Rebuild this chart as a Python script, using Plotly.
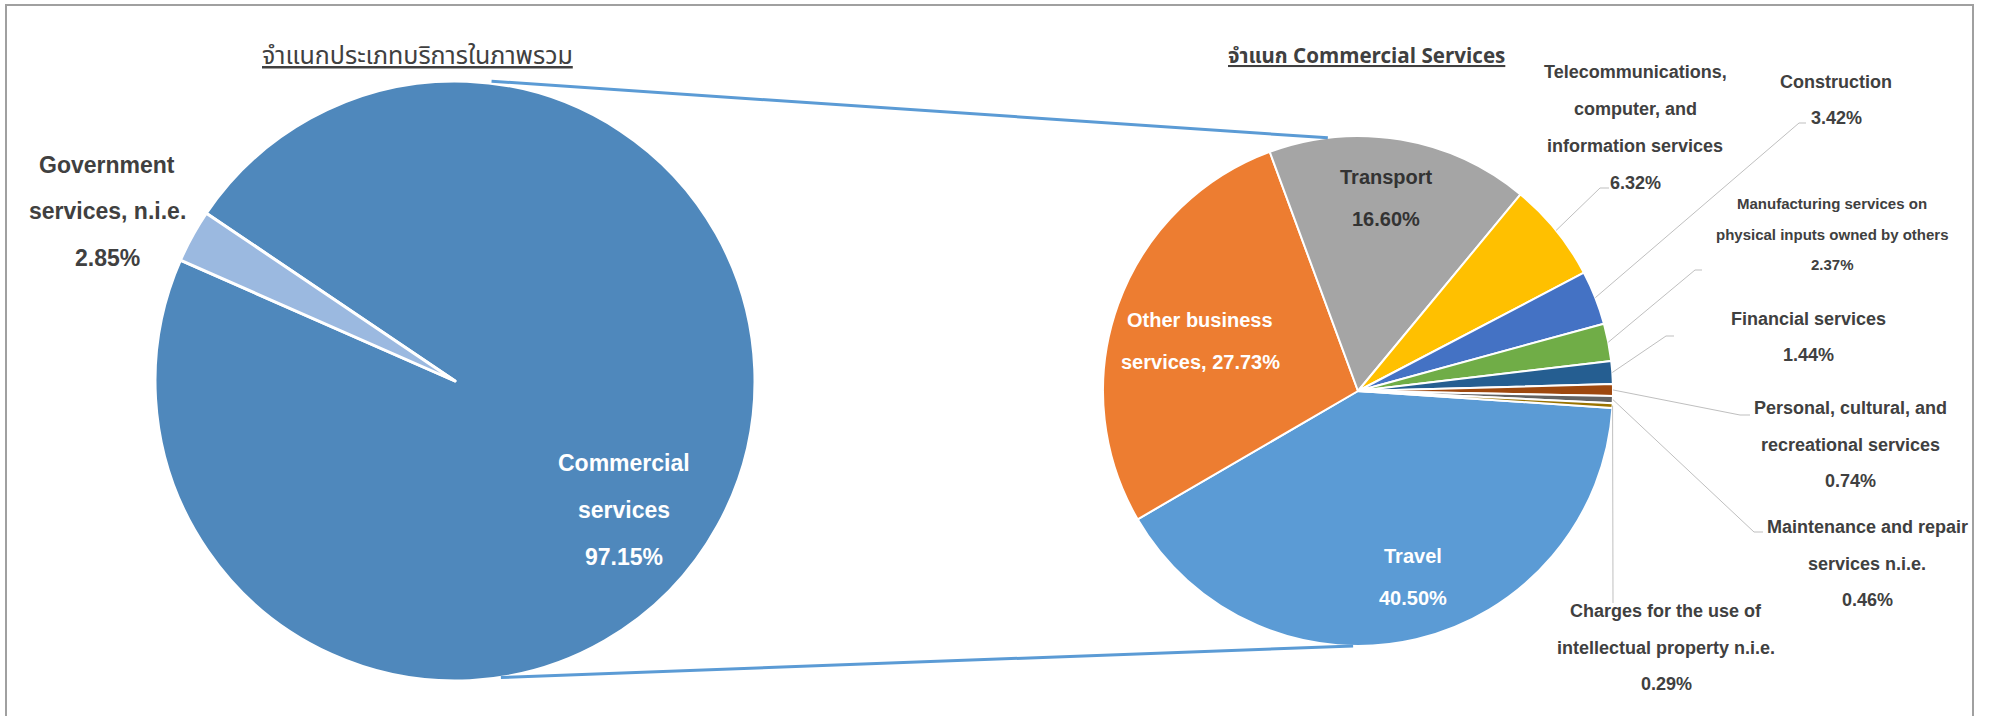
import math
import plotly.graph_objects as go

# Services breakdown (percent shares)
overall_categories = ["Commercial services", "Government services, n.i.e."]
overall_values = [97.15, 2.85]
overall_colors = ["#4F88BC", "#9BB9E0"]

commercial_categories = [
    "Travel",
    "Other business services",
    "Transport",
    "Telecommunications, computer, and information services",
    "Construction",
    "Manufacturing services on physical inputs owned by others",
    "Financial services",
    "Personal, cultural, and recreational services",
    "Maintenance and repair services n.i.e.",
    "Charges for the use of intellectual property n.i.e.",
]
commercial_values = [40.50, 27.73, 16.60, 6.32, 3.42, 2.37, 1.44, 0.74, 0.46, 0.29]
commercial_colors = ["#5B9BD5", "#ED7D31", "#A5A5A5", "#FFC000", "#4472C4",
                     "#70AD47", "#255E91", "#9E480E", "#636363", "#997300"]

# Line-broken label templates ({v} is replaced by the formatted share)
overall_label_lines = ["Commercial\nservices\n{v}", "Government\nservices, n.i.e.\n{v}"]
commercial_label_lines = [
    "Travel\n{v}",
    "Other business\nservices, {v}",
    "Transport\n{v}",
    "Telecommunications,\ncomputer, and\ninformation services\n{v}",
    "Construction\n{v}",
    "Manufacturing services on\nphysical inputs owned by others\n{v}",
    "Financial services\n{v}",
    "Personal, cultural, and\nrecreational services\n{v}",
    "Maintenance and repair\nservices n.i.e.\n{v}",
    "Charges for the use of\nintellectual property n.i.e.\n{v}",
]

title_left = "จำแนกประเภทบริการในภาพรวม"
title_right = "จำแนก Commercial Services"

W, H = 1990, 716
FONT = "Liberation Sans, Arial, sans-serif"
THAI_FONT = "Noto Sans Thai, Noto Sans Thai UI, Leelawadee UI, Tahoma, DejaVu Sans, Liberation Sans, sans-serif"
TEXT_DARK = "#404040"

# pie geometry in pixels: centre and radius
L_CX, L_CY, L_R = 455, 381, 300
R_CX, R_CY, R_R = 1358, 391, 255
L_ROT, R_ROT = -56.0, 93.8


def px(x):
    return x / W


def py(y):
    return 1 - y / H


def domain(cx, cy, r):
    return dict(x=[px(cx - r), px(cx + r)], y=[py(cy + r), py(cy - r)])


def edge_point(cx, cy, r, compass_deg):
    a = math.radians(compass_deg)
    return cx + r * math.sin(a), cy - r * math.cos(a)


def mid_angles(values, rotation):
    total = sum(values)
    out, acc = [], 0.0
    for v in values:
        out.append(rotation + (acc + v / 2) / total * 360)
        acc += v
    return out


fig = go.Figure()

fig.add_trace(go.Pie(
    labels=overall_categories, values=overall_values, sort=False,
    direction="clockwise", rotation=L_ROT,
    marker=dict(colors=overall_colors, line=dict(color="white", width=3)),
    textinfo="none", hoverinfo="label+value",
    domain=domain(L_CX, L_CY, L_R), showlegend=False,
))

fig.add_trace(go.Pie(
    labels=commercial_categories, values=commercial_values, sort=False,
    direction="clockwise", rotation=R_ROT,
    marker=dict(colors=commercial_colors, line=dict(color="white", width=2)),
    textinfo="none", hoverinfo="label+value",
    domain=domain(R_CX, R_CY, R_R), showlegend=False,
))

annotations = []


def add_label(template, value, x, y0, gap, size, color):
    lines = template.format(v=f"{value:.2f}%").split("\n")
    for i, line in enumerate(lines):
        annotations.append(dict(
            x=px(x), y=py(y0 + i * gap), xref="paper", yref="paper",
            text=line, showarrow=False, xanchor="center", yanchor="middle",
            font=dict(family=FONT, size=size, color=color, weight="bold"),
        ))


# label anchors: (centre x, first-line y, line gap, font size, colour)
overall_label_pos = [
    (624, 463, 47, 23, "white"),
    (107, 165, 46.5, 23, TEXT_DARK),
]
commercial_label_pos = [
    (1413, 556, 41.5, 20, "white"),
    (1200, 320, 42, 20, "white"),
    (1386, 177, 42, 20, "#333333"),
    (1635, 72, 37, 18, TEXT_DARK),
    (1836, 82, 36, 18, TEXT_DARK),
    (1832, 203, 31, 15, TEXT_DARK),
    (1808, 319, 36, 18, TEXT_DARK),
    (1850, 408, 36.5, 18, TEXT_DARK),
    (1867, 527, 36.5, 18, TEXT_DARK),
    (1666, 611, 36.5, 18, TEXT_DARK),
]

for tpl, val, pos in zip(overall_label_lines, overall_values, overall_label_pos):
    add_label(tpl, val, *pos)
for tpl, val, pos in zip(commercial_label_lines, commercial_values, commercial_label_pos):
    add_label(tpl, val, *pos)

# titles
annotations.append(dict(
    x=px(417), y=py(56), xref="paper", yref="paper", showarrow=False,
    text=f"<u>{title_left}</u>", xanchor="center", yanchor="middle",
    font=dict(family=THAI_FONT, size=25, color=TEXT_DARK),
))
annotations.append(dict(
    x=px(1366), y=py(56), xref="paper", yref="paper", showarrow=False,
    text=f"<u>{title_right}</u>", xanchor="center", yanchor="middle",
    font=dict(family=THAI_FONT, size=20.6, color=TEXT_DARK, weight="bold"),
))

shapes = []


def seg(x0, y0, x1, y1, color, width):
    shapes.append(dict(type="line", xref="paper", yref="paper",
                       x0=px(x0), y0=py(y0), x1=px(x1), y1=py(y1),
                       line=dict(color=color, width=width)))


# leader lines for the small slices (elbow point, end of short horizontal)
leader_elbows = {
    3: [(1600, 188), (1609, 188)],
    4: [(1799, 123), (1806, 123)],
    5: [(1695, 270), (1702, 270)],
    6: [(1666, 336), (1674, 336)],
    7: [(1740, 415), (1750, 415)],
    8: [(1754, 532), (1763, 532)],
    9: [(1613, 603)],
}
mids = mid_angles(commercial_values, R_ROT)
LEADER = "#BFBFBF"
for idx, pts in leader_elbows.items():
    sx, sy = edge_point(R_CX, R_CY, R_R, mids[idx])
    path = [(sx, sy)] + pts
    for (a, b), (c, d) in zip(path[:-1], path[1:]):
        seg(a, b, c, d, LEADER, 1)

# connector lines between the two pies
CONNECT = "#5B9BD5"
lx, ly = edge_point(L_CX, L_CY, L_R, 7.0)
rx, ry = edge_point(R_CX, R_CY, R_R, -6.8)
seg(lx, ly - 2, rx, ry, CONNECT, 3)
lx, ly = edge_point(L_CX, L_CY, L_R, 171.2)
rx, ry = edge_point(R_CX, R_CY, R_R, 181.1)
seg(lx, ly, rx, ry, CONNECT, 3)

# chart frame
shapes.append(dict(type="rect", xref="paper", yref="paper",
                   x0=px(6), y0=py(740), x1=px(1973), y1=py(5),
                   line=dict(color="#A0A0A0", width=2), fillcolor="rgba(0,0,0,0)"))

fig.update_layout(
    width=W, height=H, margin=dict(l=0, r=0, t=0, b=0),
    paper_bgcolor="white", plot_bgcolor="white",
    annotations=annotations, shapes=shapes,
    font=dict(family=FONT),
)

fig.write_html("out.html")
